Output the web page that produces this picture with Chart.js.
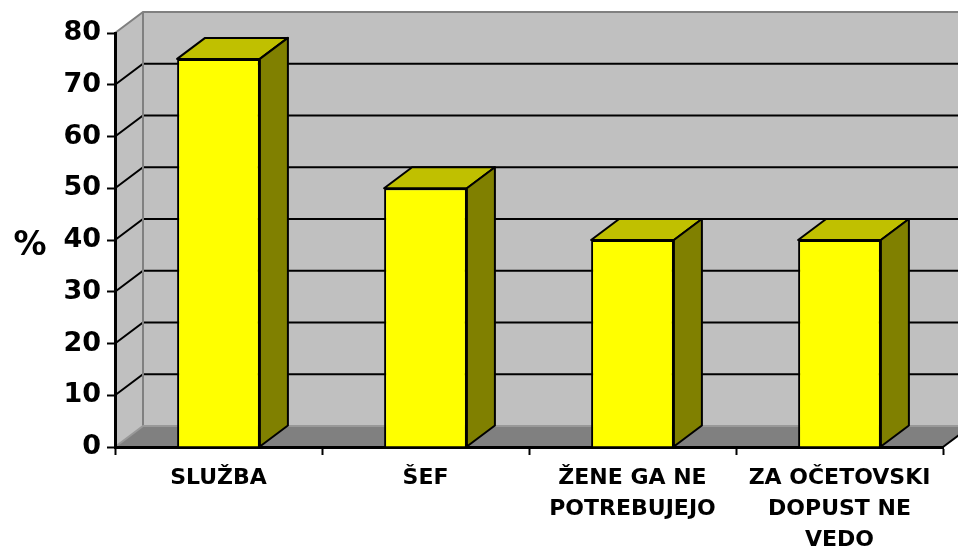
<!DOCTYPE html>
<html>
<head>
<meta charset="utf-8">
<script src="https://cdn.jsdelivr.net/npm/chart.js@4.4.0/dist/chart.umd.min.js"></script>
<style>
  html, body { margin: 0; padding: 0; background: #fff; }
</style>
</head>
<body>
<canvas id="chart" width="958" height="553"></canvas>
<script>
// data
const categories = [['SLUŽBA'], ['ŠEF'], ['ŽENE GA NE', 'POTREBUJEJO'], ['ZA OČETOVSKI', 'DOPUST NE', 'VEDO']];
const values = [75, 50, 40, 40];
const yMin = 0;
const yMax = 80;
const yStep = 10;
const yTitle = '%';

// depth of the fake 3d box
const DX = 28, DY = -21;

const box3d = {
  id: 'box3d',
  beforeDraw(chart) {
    const ctx = chart.ctx;
    const a = chart.chartArea;
    const ys = chart.scales.y;
    const top = ys.getPixelForValue(yMax);
    const bot = ys.getPixelForValue(yMin);
    const L = a.left, R = a.right;
    ctx.save();
    // back wall
    ctx.fillStyle = '#c0c0c0';
    ctx.fillRect(L + DX, top + DY, R - L, bot - top);
    // side wall
    ctx.beginPath();
    ctx.moveTo(L, bot); ctx.lineTo(L, top);
    ctx.lineTo(L + DX, top + DY); ctx.lineTo(L + DX, bot + DY);
    ctx.closePath(); ctx.fill();
    // floor
    ctx.fillStyle = '#808080';
    ctx.beginPath();
    ctx.moveTo(L, bot); ctx.lineTo(L + DX, bot + DY);
    ctx.lineTo(R + DX, bot + DY); ctx.lineTo(R, bot);
    ctx.closePath(); ctx.fill();

    // gridlines on walls
    ctx.lineWidth = 2;
    ys.ticks.forEach(t => {
      if (t.value <= yMin || t.value >= yMax) return;
      const py = ys.getPixelForValue(t.value);
      ctx.strokeStyle = '#000';
      ctx.beginPath();
      ctx.moveTo(L, py); ctx.lineTo(L + DX, py + DY); ctx.lineTo(R + DX, py + DY);
      ctx.stroke();
    });
    // wall edges
    ctx.strokeStyle = '#808080';
    ctx.beginPath();
    ctx.moveTo(L, top); ctx.lineTo(L + DX, top + DY); ctx.lineTo(R + DX, top + DY);
    ctx.moveTo(L + DX, top + DY); ctx.lineTo(L + DX, bot + DY);
    ctx.stroke();
    ctx.strokeStyle = '#999';
    ctx.beginPath();
    ctx.moveTo(L, bot); ctx.lineTo(L + DX, bot + DY); ctx.lineTo(R + DX, bot + DY);
    ctx.stroke();
    // right floor edge
    ctx.strokeStyle = '#000';
    ctx.beginPath();
    ctx.moveTo(R, bot); ctx.lineTo(R + DX, bot + DY);
    ctx.stroke();
    ctx.restore();
  },
  afterDatasetsDraw(chart) {
    const ctx = chart.ctx;
    ctx.save();
    ctx.lineWidth = 2;
    ctx.strokeStyle = '#000';
    ctx.lineJoin = 'round';
    chart.getDatasetMeta(0).data.forEach(el => {
      const p = el.getProps(['x', 'y', 'width', 'base'], true);
      const l = p.x - p.width / 2, r = p.x + p.width / 2;
      // top
      ctx.fillStyle = '#c0c000';
      ctx.beginPath();
      ctx.moveTo(l, p.y); ctx.lineTo(l + DX, p.y + DY);
      ctx.lineTo(r + DX, p.y + DY); ctx.lineTo(r, p.y);
      ctx.closePath(); ctx.fill(); ctx.stroke();
      // side
      ctx.fillStyle = '#808000';
      ctx.beginPath();
      ctx.moveTo(r, p.y); ctx.lineTo(r + DX, p.y + DY);
      ctx.lineTo(r + DX, p.base + DY); ctx.lineTo(r, p.base);
      ctx.closePath(); ctx.fill(); ctx.stroke();
    });
    ctx.restore();
  },
  afterDraw(chart) {
    const ctx = chart.ctx;
    const a = chart.chartArea;
    ctx.save();
    ctx.fillStyle = '#000';
    ctx.font = 'bold 33px "DejaVu Sans"';
    ctx.textAlign = 'center';
    ctx.textBaseline = 'middle';
    ctx.fillText(yTitle, 30, (a.top + a.bottom) / 2 + 6);
    ctx.restore();
  }
};

const tickFont = { family: 'DejaVu Sans', weight: 'bold' };

new Chart(document.getElementById('chart'), {
  type: 'bar',
  data: {
    labels: categories,
    datasets: [{
      data: values,
      backgroundColor: '#ffff00',
      borderColor: '#000',
      borderWidth: 2,
      barPercentage: 0.8,
      categoryPercentage: 0.5
    }]
  },
  options: {
    responsive: false,
    animation: false,
    layout: { padding: { top: 33, right: 15, left: 0, bottom: 0 } },
    plugins: { legend: { display: false }, tooltip: { enabled: false } },
    scales: {
      x: {
        grid: { display: true, drawOnChartArea: false, offset: true, tickLength: 8, tickColor: '#000', tickWidth: 2 },
        border: { color: '#000', width: 3 },
        ticks: { color: '#000', font: { ...tickFont, size: 22, lineHeight: 1.4 }, padding: 8, maxRotation: 0, autoSkip: false },
        afterFit(s) { s.height = 106; }
      },
      y: {
        min: yMin,
        max: yMax,
        grid: { drawOnChartArea: false, tickLength: 8, tickColor: '#000', tickWidth: 2 },
        border: { color: '#000', width: 3 },
        ticks: { stepSize: yStep, color: '#000', font: { ...tickFont, size: 27 }, padding: 6 },
        afterFit(s) { s.width = 115; }
      }
    }
  },
  plugins: [box3d]
});
</script>
</body>
</html>
